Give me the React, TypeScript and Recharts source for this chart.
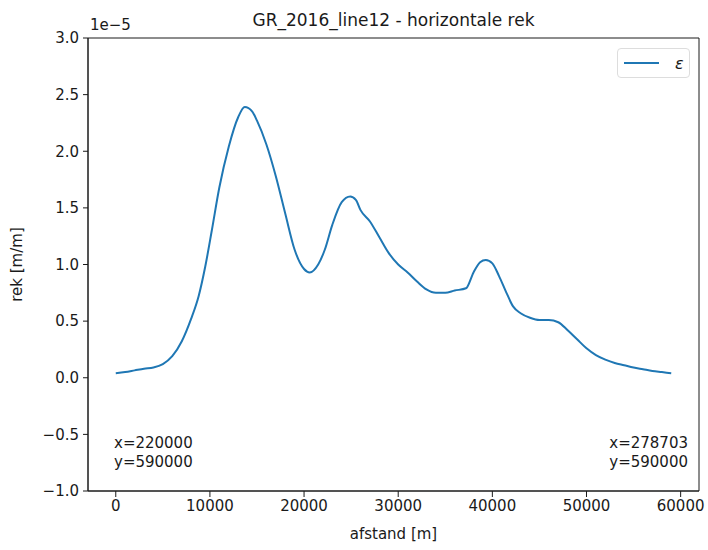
import React from 'react';
import { LineChart, Line, XAxis, YAxis, ReferenceArea } from 'recharts';

// afstand [m]
const distances = [
  0, 1000, 2000, 3000, 4000, 5000, 6000, 7000, 8000, 8800, 9500, 10200, 11000,
  12000, 13000, 13700, 14500, 15000, 16000, 17000, 18000, 19000, 20000, 20600,
  21500, 22200, 23000, 24000, 24900, 25500, 26000, 27000, 28000, 29000, 30000,
  31000, 32000, 33000, 34000, 35000, 36000, 37200, 38000, 38700, 39300, 40000,
  40700, 41500, 42200, 43000, 44000, 45000, 46000, 47000, 48000, 49000, 50000,
  51000, 52000, 53000, 54000, 55000, 56000, 57000, 58000, 59000,
];

// rek [m/m], in units of 1e-5
const strain = [
  0.04, 0.05, 0.065, 0.08, 0.09, 0.12, 0.19, 0.32, 0.52, 0.72, 0.98, 1.3, 1.68,
  2.04, 2.3, 2.39, 2.35, 2.27, 2.06, 1.78, 1.45, 1.13, 0.96, 0.93,
  1.0, 1.13, 1.35, 1.55, 1.6, 1.57, 1.48, 1.38, 1.24, 1.1, 1.0,
  0.93, 0.85, 0.78, 0.75, 0.75, 0.77, 0.79, 0.93, 1.02, 1.04, 1.01,
  0.9, 0.75, 0.63, 0.57, 0.53, 0.51, 0.51, 0.49, 0.42, 0.34, 0.26,
  0.2, 0.16, 0.13, 0.11, 0.09, 0.075, 0.06, 0.05, 0.04,
];

const xTicks = [0, 10000, 20000, 30000, 40000, 50000, 60000];
const yTicks = [-1, -0.5, 0, 0.5, 1, 1.5, 2, 2.5, 3];

const X_DOMAIN: [number, number] = [-2950, 61950];
const Y_DOMAIN: [number, number] = [-1, 3];

const FONT = '"DejaVu Sans", sans-serif';
const INK = '#1a1a1a';
const BLUE = '#1f77b4';

const data = distances.map((d, i) => ({ afstand: d, eps: strain[i] }));

const fmtY = (v: number) => v.toFixed(1).replace('-', '\u2212');

const note: React.CSSProperties = {
  position: 'absolute',
  fontFamily: FONT,
  fontSize: 15,
  lineHeight: '19px',
  color: INK,
  whiteSpace: 'pre',
};

export default function App() {
  return (
    <div
      style={{
        position: 'absolute',
        left: 0,
        top: 0,
        width: 708,
        height: 550,
        background: '#fff',
        fontFamily: FONT,
      }}
    >
      <LineChart
        width={708}
        height={550}
        data={data}
        margin={{ top: 38, right: 9, bottom: 19, left: 43 }}
      >
        <XAxis
          dataKey="afstand"
          type="number"
          domain={X_DOMAIN}
          ticks={xTicks}
          allowDataOverflow
          height={40}
          tickSize={6}
          tickMargin={3}
          stroke={INK}
          tick={{ fill: INK, fontSize: 15, fontFamily: FONT }}
          label={{
            value: 'afstand [m]',
            position: 'insideBottom',
            offset: -8,
            fill: INK,
            fontSize: 15,
            fontFamily: FONT,
          }}
        />
        <YAxis
          type="number"
          domain={Y_DOMAIN}
          ticks={yTicks}
          allowDataOverflow
          width={45}
          tickSize={5}
          tickMargin={4}
          tickFormatter={fmtY}
          stroke={INK}
          tick={{ fill: INK, fontSize: 15, fontFamily: FONT }}
          label={{
            value: 'rek [m/m]',
            angle: -90,
            position: 'insideLeft',
            offset: -26,
            style: { textAnchor: 'middle' },
            fill: INK,
            fontSize: 15,
            fontFamily: FONT,
          }}
        />
        <ReferenceArea
          x1={X_DOMAIN[0]}
          x2={X_DOMAIN[1]}
          y1={Y_DOMAIN[0]}
          y2={Y_DOMAIN[1]}
          fill="none"
          stroke={INK}
          strokeWidth={1}
          ifOverflow="visible"
        />
        <Line
          type="monotone"
          dataKey="eps"
          name="ε"
          stroke={BLUE}
          strokeWidth={2}
          dot={false}
          isAnimationActive={false}
        />
      </LineChart>

      <div
        style={{
          position: 'absolute',
          left: 88,
          right: 9,
          top: 10,
          textAlign: 'center',
          fontSize: 17,
          color: INK,
        }}
      >
        GR_2016_line12 - horizontale rek
      </div>
      <div style={{ ...note, left: 90, top: 16 }}>1e{'\u2212'}5</div>

      {/* legend */}
      <div
        style={{
          position: 'absolute',
          left: 617,
          top: 48,
          width: 73,
          height: 30,
          display: 'flex',
          alignItems: 'center',
          border: '1px solid #ddd',
          borderRadius: 4,
          background: '#fff',
          fontSize: 16,
          fontStyle: 'italic',
          color: INK,
          boxSizing: 'border-box',
        }}
      >
        <div style={{ marginLeft: 6, width: 35, height: 2, background: BLUE }} />
        <span style={{ marginLeft: 16 }}>ε</span>
      </div>

      <div style={{ ...note, left: 114, top: 434 }}>{'x=220000\ny=590000'}</div>
      <div style={{ ...note, right: 20, top: 434 }}>{'x=278703\ny=590000'}</div>
    </div>
  );
}
